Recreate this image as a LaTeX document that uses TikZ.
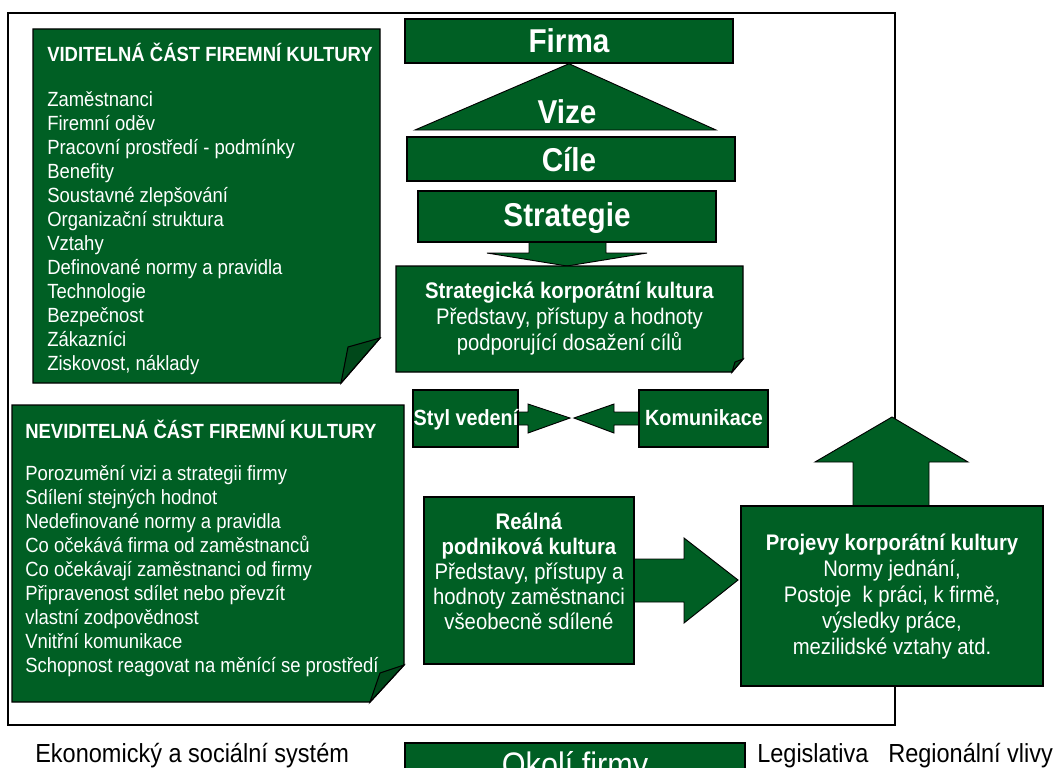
\documentclass[tikz,border=0pt]{standalone}
\usepackage{fontspec}
\setmainfont{Liberation Sans}[FakeStretch=0.9]
\usetikzlibrary{fit,calc}
\definecolor{fgreen}{RGB}{0,95,36}
\definecolor{fdark}{RGB}{0,72,26}
\begin{document}
\begin{tikzpicture}[x=0.75pt,y=-0.75pt,
  box/.style={draw=black, line width=1.1pt, fill=fgreen, inner sep=0pt, line join=miter},
  fold/.style={draw=black, line width=0.8pt, fill=fdark, line join=miter},
  blk/.style={draw=black, line width=0.7pt, fill=fgreen, line join=miter},
  wt/.style={text=white, inner sep=0pt},
  item/.style={wt, anchor=base west, font=\fontsize{15.4}{18}\selectfont},
  itemhead/.style={wt, anchor=base west, font=\bfseries\fontsize{15.4}{18}\selectfont},
  big/.style={wt, anchor=base, font=\bfseries\fontsize{24.75}{28}\selectfont},
  mid/.style={wt, align=center, font=\fontsize{16.9}{19.5}\selectfont},
  midb/.style={wt, anchor=base, font=\bfseries\fontsize{16.5}{19}\selectfont},
  bottomtext/.style={anchor=base west, inner sep=0pt, font=\fontsize{19.6}{22}\selectfont}
]
\clip (0,0) rectangle (1055,767);
\path[use as bounding box] (0,0) rectangle (1055,767);

% outer frame
\draw[line width=1.5pt] (8,13) rectangle (895,725);

% visible part
\draw[box] (33,29) -- (380,29) -- (380,338) -- (341,383) -- (33,383) -- cycle;
\draw[fold] (380,338) -- (348,347) -- (341,383) -- cycle;
\node[itemhead] (vh) at (47,61) {VIDITELNÁ ČÁST FIREMNÍ KULTURY};
\foreach \t [count=\i from 0] in {Zaměstnanci, Firemní oděv, Pracovní prostředí - podmínky, Benefity, Soustavné zlepšování, Organizační struktura, Vztahy, Definované normy a pravidla, Technologie, Bezpečnost, Zákazníci, {Ziskovost, náklady}}
  \node[item] (vi\i) at (47,106+24*\i) {\t};

% invisible part
\draw[box] (12,405) -- (404,405) -- (404,665) -- (370,702) -- (12,702) -- cycle;
\draw[fold] (404,665) -- (380,673) -- (370,702) -- cycle;
\node[itemhead] (nh) at (25,438) {NEVIDITELNÁ ČÁST FIREMNÍ KULTURY};
\foreach \t [count=\i from 0] in {Porozumění vizi a strategii firmy, Sdílení stejných hodnot, Nedefinované normy a pravidla, Co očekává firma od zaměstnanců, Co očekávají zaměstnanci od firmy, Připravenost sdílet nebo převzít, vlastní zodpovědnost, Vnitřní komunikace, Schopnost reagovat na měnící se prostředí}
  \node[item] (ni\i) at (25,480+24*\i) {\t};

% block arrows (drawn under the boxes)
\draw[blk] (529,242) -- (606,242) -- (606,253) -- (647,253) -- (567,266) -- (487,253) -- (529,253) -- cycle;
\draw[blk] (634,559) -- (684,559) -- (684,538) -- (738,580) -- (684,623) -- (684,602) -- (634,602) -- cycle;
\draw[blk] (853,506) -- (853,462) -- (815,462) -- (892,417) -- (968,462) -- (929,462) -- (929,506) -- cycle;
\draw[blk] (518,412) -- (528,412) -- (528,404) -- (570,418) -- (528,433) -- (528,425) -- (518,425) -- cycle;
\draw[blk] (639,412) -- (614,412) -- (614,404) -- (574,418) -- (614,433) -- (614,425) -- (639,425) -- cycle;

% top column
\node[box, fit={(405,19) (733,63)}] (firma) {};
\node[big] (firmat) at (569,53) {Firma};
\draw[blk] (firma.south) -- (716,130) -- (415,130) -- cycle;
\node[big] (vize) at (567,123) {Vize};
\node[box, fit={(407,137) (735,181)}] (cile) {};
\node[big] (cilet) at (569,171) {Cíle};
\node[box, fit={(418,191) (716,242)}] (strategie) {};
\node[big] (strategiet) at (567,226) {Strategie};

% strategic corporate culture
\draw[box] (396,266) -- (743,266) -- (743,359) -- (732,372) -- (396,372) -- cycle;
\draw[fold] (743,359) -- (735,362) -- (732,372) -- cycle;
\node[mid] (skt) at (569.5,319) {\textbf{Strategická korporátní kultura}\\Představy, přístupy a hodnoty\\podporující dosažení cílů};

% style / communication
\node[box, fit={(413,390) (518,447)}] (styl) {};
\node[midb] (stylt) at (466,425) {Styl vedení};
\node[box, fit={(639,390) (768,447)}] (komu) {};
\node[midb] (komut) at (704,425) {Komunikace};

% real culture
\node[box, fit={(424,497) (634,664)}] (realna) {};
\node[mid, font=\fontsize{16.9}{18.8}\selectfont] (realt) at (529,571) {\textbf{Reálná}\\\textbf{podniková kultura}\\Představy, přístupy a\\hodnoty zaměstnanci\\všeobecně sdílené};

% manifestations
\node[box, fit={(741,506) (1043,686)}] (projevy) {};
\node[mid, font=\fontsize{16.9}{19.5}\selectfont] (projt) at (892,597) {\textbf{Projevy korporátní kultury}\\Normy jednání,\\Postoje\ \ k práci, k firmě,\\výsledky práce,\\mezilidské vztahy atd.};

% bottom row
\node[box, fit={(405,743) (745,800)}] (okoli) {};
\node[wt, anchor=base, font=\fontsize{25.5}{30}\selectfont] (okt) at (575,776) {Okolí firmy};
\node[bottomtext] (eko) at (35,762) {Ekonomický a sociální systém};
\node[bottomtext] (leg) at (757,762) {Legislativa};
\node[bottomtext] (reg) at (888,762) {Regionální vlivy};
\end{tikzpicture}
\end{document}
